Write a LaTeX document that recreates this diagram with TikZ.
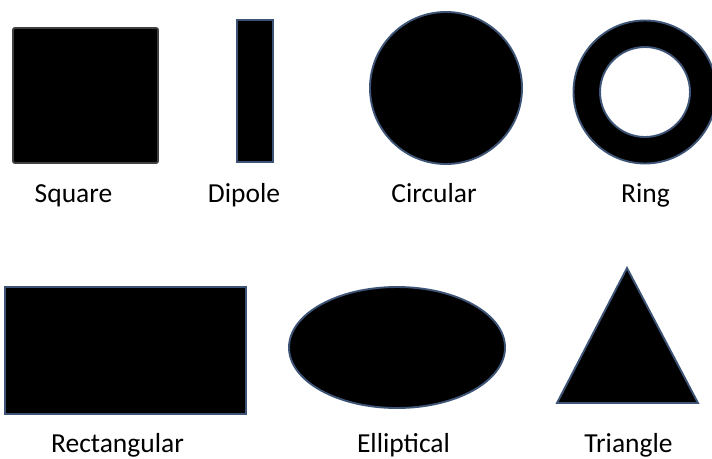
\documentclass[tikz,border=0pt]{standalone}
\usepackage{fontspec}
\setmainfont{Carlito}
\usetikzlibrary{shapes.geometric}
\definecolor{edgeblue}{RGB}{62,84,118}
\begin{document}
\begin{tikzpicture}[x=1pt,y=-1pt,
    solid/.style={fill=black,draw=edgeblue,line width=1.9pt,inner sep=0pt},
    caption/.style={anchor=base,inner sep=0pt,font=\fontsize{27.5}{32}\selectfont,text=black}]
    \useasboundingbox (0,0) rectangle (712,458);
    \clip (0,0) rectangle (712,458);
    % top row
    \node[solid,draw=black!75,rounded corners=2pt,minimum width=145pt,minimum height=135pt] (square) at (85.5,95.5) {};
    \node[solid,minimum width=36pt,minimum height=142pt] (dipole) at (255,91) {};
    \node[solid,circle,minimum size=152pt] (circ) at (446,88) {};
    \coordinate (ring) at (645,92);
    \draw[solid,even odd rule] (ring) circle[radius=71.5] (ring) circle[radius=45];
    \node[caption] (lsquare) at (73.5,202) {Square};
    \node[caption] (ldipole) at (244,202) {Dipole};
    \node[caption] (lcirc) at (434,202) {Circular};
    \node[caption] (lring) at (645.5,202) {Ring};
    % bottom row
    \node[solid,minimum width=241pt,minimum height=127pt] (rect) at (125.5,350.5) {};
    \node[solid,ellipse,minimum width=216pt,minimum height=121pt] (ellip) at (397,347.5) {};
    \coordinate (tapex) at (627,268);
    \coordinate (tleft) at (557,403);
    \coordinate (tright) at (698,403);
    \draw[solid,line join=miter] (tapex) -- (tright) -- (tleft) -- cycle;
    \node[caption] (lrect) at (117.5,452) {Rectangular};
    \node[caption] (lellip) at (403.5,452) {Elliptical};
    \node[caption] (ltri) at (628.5,452) {Triangle};
\end{tikzpicture}
\end{document}
